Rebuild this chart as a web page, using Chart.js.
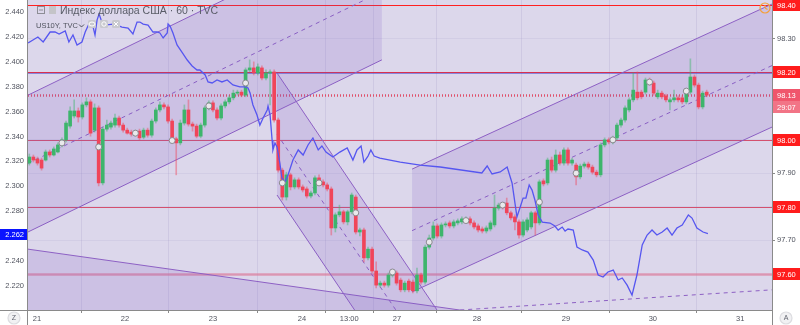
<!DOCTYPE html>
<html>
<head>
<meta charset="utf-8">
<script src="https://cdn.jsdelivr.net/npm/chart.js@4.4.1/dist/chart.umd.min.js"></script>
<style>
  html, body { margin: 0; padding: 0; background: #fff; }
  canvas { display: block; }
</style>
</head>
<body>
<canvas id="chart" width="800" height="325"></canvas>
<script>
// Hourly candles of the dollar index (TVC), hour 0 = first bar on the 21st
const candleOpen = [97.930,97.948,97.942,97.939,97.939,97.963,97.954,97.963,97.984,97.999,
  98.040,98.070,98.085,98.067,98.103,98.112,98.028,98.094,97.871,98.031,
  98.037,98.043,98.064,98.043,98.028,98.022,98.016,98.025,98.007,98.028,
  98.013,98.055,98.088,98.103,98.097,98.055,98.002,97.990,98.049,98.088,
  98.046,98.040,98.010,98.043,98.094,98.109,98.088,98.064,98.100,98.112,
  98.124,98.138,98.141,98.132,98.207,98.213,98.198,98.213,98.183,98.198,
  98.201,98.058,97.909,97.829,97.895,97.859,97.880,97.859,97.853,97.832,
  97.841,97.886,97.874,97.865,97.853,97.737,97.776,97.785,97.755,97.785,
  97.829,97.725,97.731,97.648,97.674,97.609,97.567,97.573,97.567,97.597,
  97.603,97.582,97.553,97.579,97.576,97.550,97.597,97.576,97.680,97.707,
  97.743,97.713,97.746,97.752,97.743,97.752,97.755,97.761,97.764,97.752,
  97.743,97.734,97.728,97.734,97.746,97.796,97.805,97.811,97.782,97.770,
  97.755,97.716,97.731,97.740,97.782,97.752,97.877,97.871,97.939,97.909,
  97.954,97.930,97.969,97.930,97.924,97.889,97.921,97.927,97.918,97.903,
  97.895,97.984,97.999,97.993,98.005,98.043,98.058,98.088,98.118,98.141,
  98.141,98.141,98.177,98.168,98.127,98.138,98.130,98.112,98.118,98.124,
  98.124,98.112,98.141,98.186,98.162,98.097,98.141];
const candleHigh = [97.957,97.954,97.948,97.945,97.969,97.969,97.978,97.990,98.005,98.055,
  98.097,98.118,98.094,98.109,98.124,98.118,98.106,98.100,98.037,98.058,
  98.055,98.076,98.070,98.049,98.034,98.028,98.028,98.031,98.034,98.034,
  98.061,98.094,98.112,98.109,98.103,98.061,98.007,98.058,98.103,98.118,
  98.052,98.046,98.049,98.100,98.115,98.115,98.094,98.106,98.118,98.130,
  98.147,98.147,98.147,98.213,98.237,98.231,98.225,98.219,98.207,98.207,
  98.207,98.064,97.915,97.903,97.900,97.886,97.886,97.865,97.859,97.847,
  97.892,97.895,97.880,97.871,97.859,97.782,97.805,97.790,97.790,97.841,
  97.835,97.737,97.737,97.680,97.680,97.636,97.579,97.579,97.603,97.612,
  97.609,97.588,97.579,97.585,97.582,97.618,97.603,97.686,97.716,97.755,
  97.749,97.752,97.755,97.758,97.761,97.764,97.770,97.770,97.770,97.758,
  97.749,97.740,97.743,97.758,97.835,97.811,97.811,97.826,97.787,97.776,
  97.761,97.761,97.767,97.787,97.787,97.880,97.883,97.945,97.948,97.969,
  97.963,97.975,97.975,97.945,97.930,97.927,97.933,97.933,97.924,97.909,
  97.990,98.005,98.005,98.010,98.049,98.064,98.100,98.124,98.198,98.201,
  98.147,98.183,98.183,98.174,98.147,98.144,98.135,98.124,98.147,98.130,
  98.130,98.147,98.240,98.192,98.168,98.144,98.147];
const candleLow = [97.924,97.933,97.924,97.909,97.936,97.948,97.951,97.960,97.978,97.993,
  98.034,98.064,98.052,98.061,98.097,98.010,98.022,97.862,97.865,98.025,
  98.031,98.037,98.037,98.022,98.016,98.010,98.010,97.999,98.002,98.007,
  98.007,98.049,98.082,98.091,98.049,97.993,97.895,97.984,98.043,98.040,
  98.025,98.005,98.005,98.037,98.088,98.082,98.058,98.058,98.094,98.106,
  98.118,98.132,98.127,98.127,98.201,98.192,98.192,98.177,98.177,98.103,
  98.052,97.903,97.820,97.820,97.850,97.853,97.853,97.844,97.826,97.826,
  97.835,97.868,97.859,97.847,97.716,97.725,97.770,97.749,97.746,97.779,
  97.719,97.713,97.636,97.642,97.603,97.559,97.561,97.561,97.561,97.591,
  97.567,97.547,97.547,97.547,97.544,97.544,97.570,97.570,97.674,97.701,
  97.707,97.707,97.740,97.737,97.737,97.746,97.749,97.755,97.746,97.734,
  97.725,97.722,97.722,97.728,97.740,97.790,97.793,97.776,97.761,97.731,
  97.707,97.710,97.725,97.734,97.716,97.746,97.862,97.865,97.903,97.903,
  97.924,97.924,97.924,97.924,97.865,97.883,97.915,97.912,97.897,97.889,
  97.889,97.978,97.987,97.987,97.999,98.037,98.052,98.082,98.112,98.118,
  98.121,98.135,98.162,98.132,98.121,98.121,98.112,98.088,98.112,98.112,
  98.106,98.106,98.135,98.156,98.091,98.091,98.127];
const candleClose = [97.948,97.939,97.930,97.915,97.963,97.954,97.972,97.984,97.999,98.049,
  98.085,98.085,98.067,98.103,98.112,98.019,98.094,97.871,98.031,98.043,
  98.049,98.064,98.043,98.028,98.019,98.016,98.022,98.005,98.028,98.013,
  98.055,98.088,98.103,98.097,98.055,98.002,97.990,98.049,98.088,98.046,
  98.040,98.010,98.043,98.094,98.109,98.088,98.064,98.100,98.112,98.124,
  98.138,98.141,98.132,98.207,98.213,98.198,98.216,98.183,98.198,98.201,
  98.058,97.909,97.829,97.895,97.859,97.880,97.859,97.850,97.832,97.841,
  97.886,97.874,97.865,97.853,97.737,97.776,97.785,97.755,97.785,97.835,
  97.725,97.731,97.648,97.674,97.609,97.567,97.573,97.567,97.597,97.606,
  97.573,97.553,97.573,97.553,97.550,97.597,97.576,97.680,97.707,97.743,
  97.713,97.746,97.749,97.743,97.755,97.758,97.764,97.764,97.752,97.740,
  97.731,97.728,97.737,97.752,97.796,97.805,97.799,97.782,97.767,97.755,
  97.716,97.755,97.761,97.782,97.752,97.874,97.868,97.939,97.909,97.954,
  97.930,97.969,97.930,97.939,97.889,97.921,97.927,97.918,97.903,97.895,
  97.984,97.999,97.993,98.005,98.043,98.058,98.094,98.118,98.147,98.124,
  98.127,98.177,98.168,98.138,98.138,98.127,98.118,98.118,98.124,98.118,
  98.112,98.141,98.186,98.162,98.097,98.138,98.132];

// US10Y yield (left axis), hour positions of the line's vertices
const yieldHour = [-0.3,0.9,2.1,3.4,5.1,6.3,7.3,8.8,9.7,10.7,
  11.7,12.9,13.7,14.6,15.4,16.1,16.6,17.1,17.6,18.6,
  20.5,21.5,22.7,24.2,25.4,26.4,27.1,27.9,29.1,30.3,
  31.3,32.0,32.8,33.8,34.0,34.5,35.2,36.2,37.4,38.7,
  39.9,41.1,41.8,43.1,43.8,44.8,46.0,47.2,48.5,49.9,
  51.6,52.9,53.6,54.1,54.8,55.8,56.5,57.3,58.3,58.5,
  59.0,59.5,59.7,60.2,60.7,61.4,61.9,62.7,63.4,64.6,
  65.9,67.1,68.3,69.5,70.8,71.7,72.7,74.4,76.1,77.9,
  79.3,80.3,81.3,82.0,83.0,83.7,84.5,85.9,90.9,95.8,
  100.7,110.9,112.2,113.4,115.4,117.1,118.3,119.5,120.3,121.0,
  121.7,122.5,123.2,123.9,124.7,125.7,127.6,128.8,129.6,130.6,
  131.3,132.0,133.3,134.2,135.5,136.9,138.2,139.4,140.6,141.8,
  143.1,144.3,145.3,146.5,147.7,148.9,150.2,151.4,152.6,153.8,
  155.1,156.3,157.5,158.7,160.0,161.5,162.4,163.6,165.1,166.3];
const yieldValues = [2.4151,2.4175,2.4199,2.4159,2.4239,2.4239,2.4223,2.4247,2.4159,2.4215,
  2.4135,2.4159,2.4239,2.4303,2.4311,2.4215,2.4335,2.4384,2.4335,2.4295,
  2.4303,2.4295,2.4279,2.4271,2.4223,2.4319,2.4319,2.4303,2.4295,2.4239,
  2.4239,2.4231,2.4191,2.4231,2.4303,2.4287,2.4231,2.4135,2.4078,2.4014,
  2.3966,2.3934,2.3934,2.3894,2.3838,2.3830,2.3854,2.3838,2.3854,2.3814,
  2.3798,2.3798,2.3790,2.3750,2.3653,2.3573,2.3492,2.3549,2.3613,2.3645,
  2.3573,2.3372,2.3292,2.3348,2.3316,2.3187,2.3067,2.3035,2.3091,2.3211,
  2.3292,2.3251,2.3332,2.3388,2.3292,2.3324,2.3275,2.3235,2.3275,2.3308,
  2.3211,2.3292,2.3324,2.3195,2.3243,2.3292,2.3243,2.3227,2.3195,2.3171,
  2.3155,2.3107,2.3163,2.3099,2.3115,2.3155,2.3027,2.2754,2.2834,2.2906,
  2.2906,2.3011,2.2970,2.2890,2.2770,2.2713,2.2705,2.2681,2.2649,2.2673,
  2.2641,2.2657,2.2649,2.2513,2.2489,2.2472,2.2408,2.2288,2.2272,2.2312,
  2.2328,2.2248,2.2264,2.2207,2.2127,2.2288,2.2529,2.2609,2.2649,2.2609,
  2.2633,2.2665,2.2609,2.2665,2.2689,2.2770,2.2745,2.2665,2.2633,2.262];

// small round markers sitting on the candles
const markerHour = [8,17,26,35,44,53,62,71,80,89,98,107,116,125,134,143,152,161];
const markerPrice = [97.990,97.978,98.019,97.997,98.100,98.168,97.871,97.871,97.782,
  97.606,97.695,97.759,97.805,97.814,97.900,97.999,98.171,98.144];

// drawn channels: [start hour, end hour] and prices of top / middle / bottom line at both ends
const channelHours = [[-0.32, 86.4], [60.7, 99.9], [93.8, 182.0]];
const channelTop = [[98.132, 98.644], [98.198, 97.493], [97.912, 98.403]];
const channelMid = [[97.929, 98.440], [98.016, 97.312], [97.729, 98.220]];
const channelBottom = [[97.725, 98.237], [97.835, 97.130], [97.547, 98.037]];
// lower-left band edge and the dashed line near the bottom
const bandHours = [-0.32, 182.0];
const bandPrices = [97.674, 97.362];
const dashHours = [105.6, 182.0];
const dashPrices = [97.493, 97.553];

// horizontal levels and axes
const levelPrices = [98.40, 98.20, 98.00, 97.80, 97.60];
const yieldLevel = 2.391;
const priceTicks = [97.6, 97.7, 97.8, 97.9, 98.0, 98.2, 98.3, 98.4];
const yieldTicks = [2.22, 2.24, 2.26, 2.28, 2.30, 2.32, 2.34, 2.36, 2.38, 2.40, 2.42, 2.44];
const dayTickHours = [1.89, 23.45, 45.0, 66.8, 78.4, 90.1, 109.7, 131.5, 152.8, 174.2];
const dayLabels = ['21', '22', '23', '24', '13:00', '27', '28', '29', '30', '31'];
const countdown = '29:07';

const FONT = '"Liberation Sans", Arial, sans-serif';
Chart.defaults.font.family = FONT;

const UP = '#3db56c';
const DOWN = '#f0455a';
const CH_LINE = '#8d60c4';
const CH_FILL = 'rgba(126, 87, 194, 0.17)';

function seg(xs, ys) {
    return [{ x: xs[0], y: ys[0] }, { x: xs[1], y: ys[1] }];
}

function overlay(data, extra) {
    return Object.assign({
        type: 'line',
        data: data,
        yAxisID: 'y',
        borderColor: CH_LINE,
        borderWidth: 1,
        pointRadius: 0,
        fill: false,
        clip: 0,
        order: 10
    }, extra);
}

const datasets = [];
channelHours.forEach((hours, c) => {
    datasets.push(overlay(seg(hours, channelTop[c]), { fill: '+1', backgroundColor: CH_FILL }));
    datasets.push(overlay(seg(hours, channelBottom[c])));
    datasets.push(overlay(seg(hours, channelMid[c]), { borderDash: [4, 4] }));
});
datasets.push(overlay(seg(bandHours, bandPrices), { fill: 'start', backgroundColor: CH_FILL }));
datasets.push(overlay(seg(dashHours, dashPrices), { borderDash: [4, 4] }));

const isUp = candleClose.map((c, i) => c >= candleOpen[i]);

// wicks
datasets.push({
    type: 'bar',
    data: candleClose.map((c, i) => ({ x: i, y: [candleLow[i], candleHigh[i]] })),
    backgroundColor: isUp.map(u => u ? 'rgba(61,181,108,0.45)' : 'rgba(240,69,90,0.45)'),
    barThickness: 1,
    grouped: false,
    order: 5
});
// bodies
datasets.push({
    type: 'bar',
    data: candleClose.map((c, i) => ({ x: i, y: [candleOpen[i], c] })),
    backgroundColor: isUp.map(u => u ? UP : DOWN),
    barThickness: 3,
    minBarLength: 1,
    grouped: false,
    order: 4
});
// US10Y line
datasets.push({
    type: 'line',
    data: yieldHour.map((h, i) => ({ x: h, y: yieldValues[i] })),
    yAxisID: 'yL',
    borderColor: '#5656f0',
    borderWidth: 1.3,
    pointRadius: 0,
    tension: 0,
    clip: 0,
    order: 2
});
// markers
datasets.push({
    type: 'line',
    data: markerHour.map((h, i) => ({ x: h, y: markerPrice[i] })),
    yAxisID: 'y',
    showLine: false,
    pointRadius: 3,
    pointBackgroundColor: '#e9e9ec',
    pointBorderColor: '#8a8a90',
    pointBorderWidth: 1,
    order: 1
});

function roundRect(ctx, x, y, w, h, r) {
    ctx.beginPath();
    ctx.moveTo(x + r, y);
    ctx.arcTo(x + w, y, x + w, y + h, r);
    ctx.arcTo(x + w, y + h, x, y + h, r);
    ctx.arcTo(x, y + h, x, y, r);
    ctx.arcTo(x, y, x + w, y, r);
    ctx.closePath();
}

function axisBox(ctx, x, yc, w, color, text) {
    ctx.fillStyle = color;
    ctx.fillRect(x, Math.round(yc) - 6, w, 12);
    ctx.fillStyle = '#fff';
    ctx.font = '7.5px ' + FONT;
    ctx.textAlign = 'left';
    ctx.textBaseline = 'middle';
    ctx.fillText(text, x + 4, Math.round(yc) + 0.5);
}

// no extra padding round the plot: the chart area runs to the canvas top
function noPadV(s, w) {
    s.width = w;
    s.paddingTop = 0;
    s.paddingBottom = 0;
}

const decor = {
    id: 'decor',
    beforeDraw(chart) {
        const { ctx, chartArea: a } = chart;
        ctx.save();
        ctx.fillStyle = '#fff';
        ctx.fillRect(0, 0, chart.width, chart.height);
        ctx.fillStyle = '#dcd7eb';
        ctx.fillRect(a.left, a.top, a.right - a.left, a.bottom - a.top);
        ctx.restore();
    },
    beforeDatasetsDraw(chart) {
        const { ctx, chartArea: a, scales } = chart;
        const y = scales.y;
        const styles = [
            ['#ff2020', 1], ['#d8304e', 1], ['#d4506e', 1], ['#d4506e', 1], ['rgba(222,120,150,0.65)', 2.5]
        ];
        ctx.save();
        // blue level on the yield axis
        const by = Math.round(scales.yL.getPixelForValue(yieldLevel)) + 0.5;
        ctx.strokeStyle = 'rgba(70,70,210,0.55)';
        ctx.lineWidth = 1;
        ctx.beginPath();
        ctx.moveTo(a.left, by);
        ctx.lineTo(a.right, by);
        ctx.stroke();
        levelPrices.forEach((p, i) => {
            const py = Math.round(y.getPixelForValue(p)) + 0.5;
            ctx.strokeStyle = styles[i][0];
            ctx.lineWidth = styles[i][1];
            ctx.beginPath();
            ctx.moveTo(a.left, py);
            ctx.lineTo(a.right, py);
            ctx.stroke();
        });
        // last price dotted line
        const last = candleClose[candleClose.length - 1];
        const ly = Math.round(y.getPixelForValue(last)) + 0.5;
        ctx.strokeStyle = '#e0506a';
        ctx.setLineDash([1, 2]);
        ctx.beginPath();
        ctx.moveTo(a.left, ly);
        ctx.lineTo(a.right, ly);
        ctx.stroke();
        ctx.restore();
    },
    afterDraw(chart) {
        const { ctx, chartArea: a, scales } = chart;
        const y = scales.y;
        ctx.save();
        // axis borders
        ctx.strokeStyle = '#8a8a8a';
        ctx.lineWidth = 1;
        ctx.beginPath();
        ctx.moveTo(a.left - 0.5, 0);
        ctx.lineTo(a.left - 0.5, chart.height);
        ctx.moveTo(a.right + 0.5, 0);
        ctx.lineTo(a.right + 0.5, chart.height);
        ctx.moveTo(0, a.bottom + 0.5);
        ctx.lineTo(a.right, a.bottom + 0.5);
        ctx.stroke();

        // right axis boxes
        levelPrices.forEach(p => {
            axisBox(ctx, a.right + 1, y.getPixelForValue(p), chart.width - a.right - 1, '#ff1c1c', p.toFixed(2));
        });
        const last = candleClose[candleClose.length - 1];
        const ly = y.getPixelForValue(last);
        axisBox(ctx, a.right + 1, ly, chart.width - a.right - 1, '#f0566c', last.toFixed(2));
        axisBox(ctx, a.right + 1, ly + 12, chart.width - a.right - 1, '#f27486', countdown);

        // left axis box with last yield
        const lastYield = yieldValues[yieldValues.length - 1];
        const yy = Math.round(scales.yL.getPixelForValue(lastYield));
        ctx.fillStyle = '#0a14ff';
        ctx.fillRect(0, yy - 5, a.left - 1, 11);
        ctx.fillStyle = '#fff';
        ctx.font = '7.5px ' + FONT;
        ctx.textAlign = 'right';
        ctx.textBaseline = 'middle';
        ctx.fillText(lastYield.toFixed(3), a.left - 4, yy + 0.5);

        // legend
        ctx.strokeStyle = '#8d8d95';
        ctx.lineWidth = 1;
        ctx.strokeRect(37.5, 6.5, 7, 7);
        ctx.beginPath();
        ctx.moveTo(39, 10);
        ctx.lineTo(43, 10);
        ctx.stroke();
        ctx.fillStyle = '#c4c4c8';
        ctx.fillRect(49, 6, 7, 8);
        ctx.fillStyle = '#595c67';
        ctx.font = '10.5px ' + FONT;
        ctx.textAlign = 'left';
        ctx.textBaseline = 'alphabetic';
        ctx.fillText('Индекс доллара США · 60 · TVC', 60, 14);
        ctx.font = '7.5px ' + FONT;
        ctx.fillStyle = '#50535e';
        ctx.fillText('US10Y, TVC', 36, 28);
        ctx.strokeStyle = '#50535e';
        ctx.beginPath();
        ctx.moveTo(79, 24.5);
        ctx.lineTo(81.5, 27);
        ctx.lineTo(84, 24.5);
        ctx.stroke();
        [88, 100, 112].forEach((bx, k) => {
            ctx.fillStyle = '#c9c9cf';
            roundRect(ctx, bx, 20, 8, 8, 1.5);
            ctx.fill();
            ctx.strokeStyle = '#fff';
            ctx.lineWidth = 1;
            ctx.beginPath();
            if (k === 0) {
                ctx.ellipse(bx + 4, 24, 3, 2, 0, 0, Math.PI * 2);
            } else if (k === 1) {
                ctx.arc(bx + 4, 24, 2.2, 0, Math.PI * 2);
            } else {
                ctx.moveTo(bx + 2, 22);
                ctx.lineTo(bx + 6, 26);
                ctx.moveTo(bx + 6, 22);
                ctx.lineTo(bx + 2, 26);
            }
            ctx.stroke();
        });

        // clock icon
        ctx.strokeStyle = '#f5a03a';
        ctx.lineWidth = 1.2;
        ctx.beginPath();
        ctx.arc(765, 8, 5, 0, Math.PI * 2);
        ctx.moveTo(765, 8);
        ctx.lineTo(765, 5);
        ctx.moveTo(765, 8);
        ctx.lineTo(767.5, 9.5);
        ctx.stroke();

        // corner buttons
        [[14, 'Z'], [786, 'A']].forEach(([cx, t]) => {
            ctx.fillStyle = '#f1f1f3';
            ctx.strokeStyle = '#dcdce0';
            ctx.beginPath();
            ctx.arc(cx, 318, 6, 0, Math.PI * 2);
            ctx.fill();
            ctx.stroke();
            ctx.fillStyle = '#60636e';
            ctx.font = '7px ' + FONT;
            ctx.textAlign = 'center';
            ctx.textBaseline = 'middle';
            ctx.fillText(t, cx, 318.5);
        });
        ctx.restore();
    }
};

const ctx = document.getElementById('chart').getContext('2d');
new Chart(ctx, {
    type: 'line',
    data: { datasets: datasets },
    plugins: [decor],
    options: {
        responsive: false,
        animation: false,
        events: [],
        layout: { padding: 0, autoPadding: false },
        plugins: { legend: { display: false }, tooltip: { enabled: false } },
        scales: {
            x: {
                type: 'linear',
                min: -0.32,
                max: 182.0,
                offset: false,
                afterBuildTicks: s => { s.ticks = dayTickHours.map(v => ({ value: v })); },
                afterFit: s => { s.height = 15; s.paddingLeft = 0; s.paddingRight = 0; },
                ticks: {
                    autoSkip: false,
                    maxRotation: 0,
                    padding: 1,
                    color: '#50535e',
                    font: { size: 7.5 },
                    callback: (v, i) => dayLabels[i]
                },
                grid: { color: 'rgba(150,140,190,0.2)', tickLength: 3, tickColor: '#8a8a8a' },
                border: { display: false }
            },
            y: {
                type: 'linear',
                position: 'right',
                min: 97.493,
                max: 98.415,
                afterBuildTicks: s => { s.ticks = priceTicks.map(v => ({ value: v })); },
                afterFit: s => noPadV(s, 28),
                ticks: {
                    padding: 2,
                    color: '#50535e',
                    font: { size: 7.5 },
                    callback: v => levelPrices.some(p => Math.abs(p - v) < 1e-6) ? '' : v.toFixed(2)
                },
                grid: { color: 'rgba(150,140,190,0.13)', tickLength: 3, tickColor: '#8a8a8a' },
                border: { display: false }
            },
            yL: {
                type: 'linear',
                position: 'left',
                min: 2.2007,
                max: 2.4496,
                afterBuildTicks: s => { s.ticks = yieldTicks.map(v => ({ value: v })); },
                afterFit: s => noPadV(s, 28),
                ticks: {
                    padding: 4,
                    color: '#50535e',
                    font: { size: 7.5 },
                    callback: v => v.toFixed(3)
                },
                grid: { display: false, drawTicks: false },
                border: { display: false }
            }
        }
    }
});
</script>
</body>
</html>
